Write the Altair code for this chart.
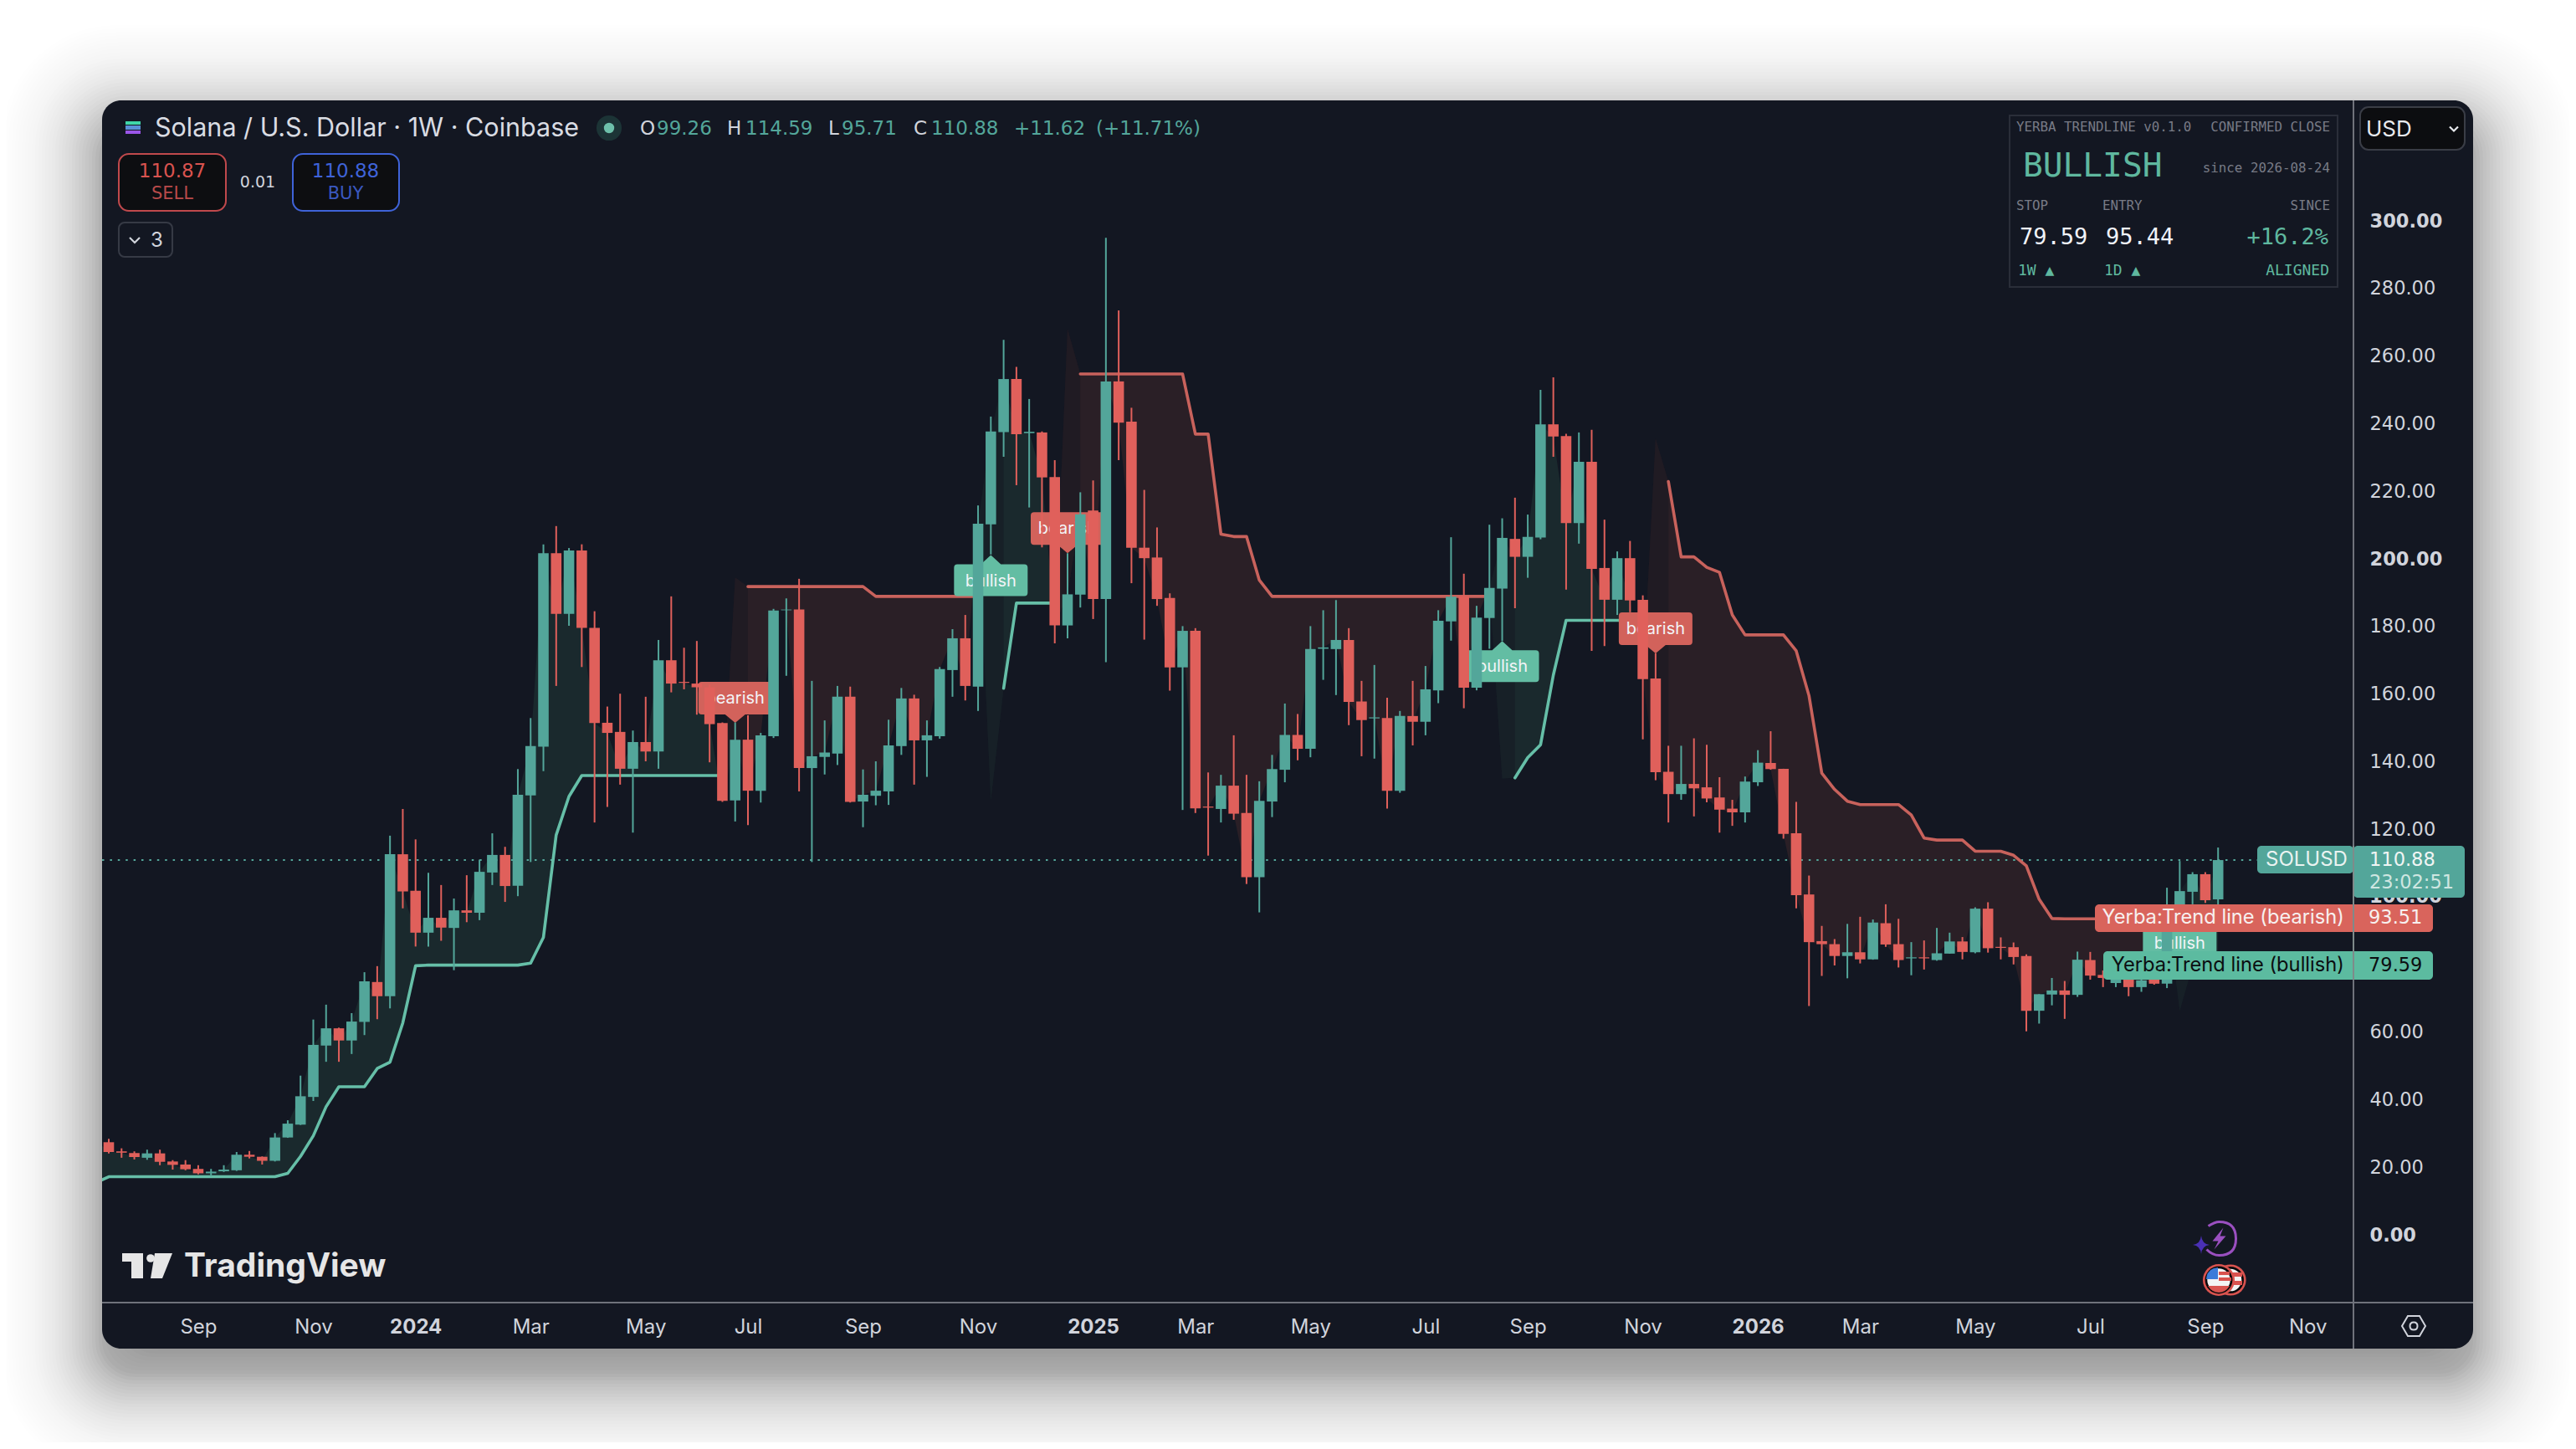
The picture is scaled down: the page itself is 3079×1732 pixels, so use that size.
import math
import altair as alt
import pandas as pd

# ---------- values ----------
opens = [27.4,24.7,24.2,22.8,24.1,21.7,20.8,19.5,18.2,18.8,
 19.1,23.7,23.1,21.9,28.8,32.6,40.8,56,61.1,57.5,
 63,74.8,70.6,112.6,101.8,89.4,93.8,90.8,96,95.3,
 107.2,112.4,103.3,130,144.4,201.7,183.7,202.5,179.6,151.5,
 148.8,137.9,145.8,143,170,163.6,163.1,162,151.4,128.5,
 146.5,131.4,147.5,184.8,185,138.1,141.4,142.4,159.2,128.2,
 129.9,131.2,144.6,158.7,146.3,147.5,167.1,176.5,162.2,210.2,
 237.5,253.2,237.2,237.4,224.2,180.3,189.4,214.3,188.1,252.5,
 240.6,203.3,200.4,188.4,167.9,178.7,126.7,126,132.9,124.8,
 105.8,128.2,137.6,147.9,143.8,173.4,173.3,176,157.8,152.8,
 152.9,131.4,153.5,151.8,161.1,181.5,189,161.9,182.5,191.2,
 205.9,200.6,206.3,239.8,236.3,210.6,228.7,197.3,187.9,200.2,
 187.9,164.6,137,130.4,133.4,132.4,129.4,126.1,125,133.9,
 139.6,137.9,118.8,100.7,86.9,86,82.5,83.6,81.5,92.2,
 86,81.8,82.1,81.3,83.2,86.8,83.6,96.5,85.2,85.1,
 82.5,66.3,71.1,72.3,71,81.3,76.9,74.5,76,73.3,
 75.6,74.3,96,101.5,106.7,99.26]
highs = [28.4,25.6,24.7,25.2,25.2,22.1,22.1,20.6,19.5,20.6,
 24.5,24.8,23.2,30.1,33.9,47.1,63.7,68.1,61.3,65.6,
 77.7,79.5,118.1,126,117,107.1,103.5,99.5,106.4,111,
 118.8,114.8,137.8,152.9,204.3,209.7,203.2,204.3,184.5,156.3,
 160.1,149.2,159.2,176,188.9,173.7,175.7,162.8,151.6,151.6,
 153.7,148.5,185.2,188.3,194.1,163.9,152.2,162.4,162.2,137.7,
 140.1,152.4,161.8,159.8,152.2,168,179.2,183.4,215.8,242.1,
 264.8,256.8,247.3,237.7,229.2,201.7,219.7,223.2,295,273.5,
 244.7,220.4,209.3,189.8,180.1,179.5,136.8,136.1,147.8,136.1,
 134.2,142,157.2,154.1,180.1,184.8,187.8,179.5,163.9,168.6,
 158.9,155,163.9,168.3,184.8,206.4,195.6,186.1,210.1,212,
 218.1,213.1,250,253.7,237,237.4,238.2,211.6,202.2,205.3,
 189.2,172.1,144.7,144.7,146.9,145,135.4,128.7,135.6,143.4,
 149,137.9,128.1,106.3,91.4,87.5,92,94.1,93.3,97.8,
 93.5,86.6,87.1,90.8,89.4,88.1,96.9,98.4,88,86.5,
 83,71.2,76,75.1,83.8,83.7,78.2,82,80,80,
 79,102.7,110.6,107.3,107.3,114.59]
lows = [24.1,22.8,22.3,22.2,20.6,19.3,19.1,17.9,17.4,18.6,
 18.9,22.6,20.8,21.7,28.7,32.5,39.6,51.2,51.2,53.5,
 59.1,63.8,67,96.6,85.3,85.3,87,78.3,92.5,93.1,
 103.5,98.5,100.2,110.3,137.2,162.4,180.2,168,122,126.6,
 133.2,119,140.1,137.9,160.5,161.4,153.9,139.8,128.1,122.3,
 121.2,127.9,147,165.4,131.2,110.3,136.2,139,127.9,120.6,
 127.1,127.2,142,133.2,135.5,146.8,159.2,158.1,155,201.3,
 230.2,221.8,215.2,203.4,175,176.5,185.6,182.2,169.4,229.2,
 192.8,176.1,186.1,161,125.7,124.8,112.2,122,122.8,103.8,
 95.4,123.6,133.9,140.4,141.3,164.2,159.7,150.8,141.6,140.9,
 126.1,130.8,144.8,147.8,157.3,175.8,155.8,161.1,173.4,175.7,
 185.4,194.4,205.8,230.2,190.9,204.5,172.8,174.2,183.4,184.2,
 146.6,134.5,122,128.7,123.8,128,119,121,122,132.8,
 137.6,117.2,96.6,67.7,76.6,79.7,75.9,80.3,81.4,85.2,
 79.1,76.8,78.5,81.1,83.2,81.5,83.3,83.5,81.5,80,
 60.2,62.5,67.9,63.9,70.4,75.5,73.3,73.3,70.6,71.9,
 74,73,93.8,97.8,98.2,95.71]
closes = [24.5,24.3,23.0,24.1,21.6,20.7,19.4,18.2,18.7,19.3,
 23.7,23.1,21.9,28.8,32.9,41,56.2,61.1,57.5,63.1,
 75,70.6,112.6,101.6,89.4,93.8,90.9,96,95.3,107.4,
 112.4,103.2,130.2,144.6,201.7,183.7,202.5,179.6,151.4,148.5,
 137.9,145.8,143,170,163.1,163.3,162,151.1,128.4,146.5,
 131.4,147.8,184.7,185,138.1,141.6,142.7,159.2,128.1,130.2,
 131.4,144.8,158.7,146.3,147.8,167.4,176.5,162.4,210.4,237.7,
 253.2,236.9,237.6,224.1,180.3,189.5,213.2,188.1,252.5,240.3,
 203.3,200.2,188.1,167.9,178.7,126.2,126.4,132.9,124.6,105.8,
 128.4,137.8,147.9,143.8,173.3,173.8,176,157.7,152.3,153.1,
 131.4,153.5,151.8,161.4,181.7,188.8,161.9,182.6,191.4,206.2,
 200.6,206.5,239.8,236.2,210.6,228.7,197,187.9,200.2,187.7,
 164.4,136.9,130.4,133.4,132.1,129.1,125.8,125,134.1,139.7,
 137.8,118.6,100.5,86.6,86,82.5,83.6,81.5,92.4,85.9,
 81.3,82.1,81.8,83.3,86.8,83.7,96.5,84.8,84.9,82.2,
 66.3,71.2,72.3,71,81.4,76.7,76,77.5,73.3,75.3,
 74.3,96,101.7,106.7,99,110.88]

bull_a_stop = [15.4] + [17.2]*14 + [18.2,23.2,29.3,37.9,43.8,43.8,43.8,49.2,51.1,62.7,79.6] + [79.8]*8 + [80.4,88.0,118.3,129.7] + [135.9]*12
bear_a_stop = [191.8]*10 + [188.9]*9
bull_b_stop = [161.7,186.9,186.9,186.9,186.9]
bear_b_stop = [254.7]*9 + [236.9,236.9,207.3,206.6,206.6,193.7] + [188.9]*18
bull_c_stop = [135.2,141.2,145.0,165.6] + [181.8]*7
bear_c_stop = [222.9,200.6,200.6,197.5,196.0,183.4,177.5,177.5,177.5,177.5,172.8,159.5,136.6,131.8,128.3,127.3,127.3,127.3,127.3,124.2,117.4,116.8,116.8,116.8,113.5,113.5,113.5,112.3,109.2,99.3,93.6] + [93.51]*9
bull_d_stop = [79.59]*3

# flip bar, side, far edge of the fill at the flip, tag tip price
flips = [(49,'bear',194.5,151.5),(69,'bull',128.5,201.1),(75,'bear',268.0,201.7),
         (109,'bull',135.0,175.7),(121,'bear',235.6,172.0),(162,'bull',66.3,93.8)]
stops = {49:bear_a_stop,69:bull_b_stop,75:bear_b_stop,109:bull_c_stop,121:bear_c_stop,162:bull_d_stop}

price_ticks = list(range(0,301,20))
covered_ticks = [80,100]        # sit beneath the price flags
time_ticks = ['2023-09-04','2023-11-06','2024-01-01','2024-03-04','2024-05-06','2024-07-01','2024-09-02','2024-11-04',
 '2025-01-06','2025-03-03','2025-05-05','2025-07-07','2025-09-01','2025-11-03','2026-01-05','2026-03-02',
 '2026-05-04','2026-07-06','2026-09-07','2026-11-02']
last_price, bear_level, bull_level = 110.88, 93.51, 79.59

# ---------- layout ----------
PL, PT, PR, PB = 122, 120, 2812, 1557      # price pane in page pixels
CR, CB = 2956, 1612                        # card right / bottom
BAR0, STEP = 130.0, 15.28                  # page x of first candle, px per week
BG='#131722'; UP='#53a69a'; DN='#e0605b'; BULL='#66bfa8'; BEAR='#c8625c'
FILL_BULL='#1a292d'; FILL_BEAR='#2a1f26'; TEXT='#d1d4dc'; GRID='#6f727b'
SANS='Inter'; NUM='DejaVu Sans'; MONO='DejaVu Sans Mono'

WEEK = 7*86400000
T0 = int(pd.Timestamp('2023-07-17').value//10**6)
def t(i): return int(T0 + i*WEEK)
px2i = lambda X:(X-BAR0)/STEP

one = pd.DataFrame({'a':[0]})
xs = alt.Scale(type='utc', domain=[t(px2i(PL)), t(px2i(PR))], padding=0)
ys = alt.Scale(domain=[(1476-PB)/4.04,(1476-PT)/4.04], zero=False, nice=False)
tick_ms = [int(pd.Timestamp(d).value//10**6) for d in time_ticks]
x_axis = alt.Axis(values=tick_ms, title=None, grid=False, domain=False, ticks=False, labelFont=SANS, labelFontSize=24,
    labelColor=TEXT, labelPadding=17, labelOverlap=False, labelBound=False, labelFlush=False, zindex=1,
    labelExpr="utcmonth(datum.value)==0 ? utcFormat(datum.value,'%Y') : utcFormat(datum.value,'%b')",
    labelFontWeight={"condition":{"test":"utcmonth(datum.value)==0","value":700},"value":400})
y_axis = alt.Axis(orient='right', values=[p for p in price_ticks if p not in covered_ticks], format='.2f', title=None, grid=False, domain=False, ticks=False, labelFont=NUM,
    labelFontSize=22.5, labelColor=TEXT, labelPadding=20, labelOverlap=False, labelBound=False, labelFlush=False, zindex=1,
    labelFontWeight={"condition":{"test":"datum.value%100===0","value":700},"value":400})
X = lambda f='t': alt.X(f+':T', scale=xs, axis=x_axis)
Y = lambda f: alt.Y(f+':Q', scale=ys, axis=y_axis)

def box(x0,y0,x1,y1,fill,stroke=None,sw=0,r=0,op=1):
    kw = dict(fill=fill, cornerRadius=r, opacity=op)
    if stroke: kw.update(stroke=stroke, strokeWidth=sw)
    return alt.Chart(one).mark_rect(**kw).encode(x=alt.value(x0-PL),x2=alt.value(x1-PL),y=alt.value(y0-PT),y2=alt.value(y1-PT))
def txt(s,x,y,size,color,align='left',weight=400,font=SANS,op=1):
    return alt.Chart(one).mark_text(text=s,align=align,baseline='middle',fontSize=size,fontWeight=weight,font=font,color=color,opacity=op).encode(x=alt.value(x-PL),y=alt.value(y-PT))
def glyph(path,x,y,fill=None,stroke=None,sw=2):
    # path in page pixels about (x,y); vega scales custom paths by sqrt(size)/2
    kw = dict(shape=path, size=10000, opacity=1)
    if fill: kw.update(filled=True, fill=fill, strokeWidth=0)
    else: kw.update(filled=False, stroke=stroke, strokeWidth=sw, fill='transparent')
    return alt.Chart(one).mark_point(**kw).encode(x=alt.value(x-PL),y=alt.value(y-PT))
def P(*parts):
    out=[]
    for p in parts:
        out.append(p if isinstance(p,str) else f"{p/50:.4f}")
    return ' '.join(out)
def rule_px(x0,y0,x1,y1,color=GRID,sw=2):
    return alt.Chart(one).mark_rule(color=color,strokeWidth=sw).encode(x=alt.value(x0-PL),x2=alt.value(x1-PL),y=alt.value(y0-PT),y2=alt.value(y1-PT))
def dot(x,y,r,fill):
    return alt.Chart(one).mark_point(shape='circle',filled=True,fill=fill,size=math.pi*r*r,opacity=1,strokeWidth=0).encode(x=alt.value(x-PL),y=alt.value(y-PT))

layers=[]
# soft shadow: alpha by distance from the shadow edge
shadow_profile=[(-40,.37),(-30,.36),(0,.29),(18,.20),(42,.12),(58,.08),(82,.03),(100,.012),(124,0.0)]
def A(d):
    for (d0,a0),(d1,a1) in zip(shadow_profile,shadow_profile[1:]):
        if d0<=d<=d1:
            return a0+(a1-a0)*(d-d0)/(d1-d0)
    return 0.0
prev=0.0
for d in range(120,-40,-4):
    target=A(d)
    a=1-(1-target)/(1-prev)
    prev=target
    layers.append(box(PL-d,PT-d+30,CR+d,CB+d+30,'#000000',r=40+max(d,0)*0.8,op=max(a,0.0005)))
# card
layers.append(box(PL,PT,CR,CB,BG,r=23))

# ---------- data tables ----------
n=len(closes)
candles=pd.DataFrame({'t':[t(i) for i in range(n)],'open':opens,'high':highs,'low':lows,'close':closes})
candles['dir']=['up' if c>=o else 'down' for o,c in zip(opens,closes)]

area_rows=[];line_rows=[];wedge_rows=[]
def add_seg(seg,side,first,vals):
    for k,v in enumerate(vals):
        i=first+k
        c=closes[i] if i>=0 else 28.0
        area_rows.append(dict(seg=seg,side=side,t=t(i),stop=v,close=c))
        line_rows.append(dict(seg=seg,side=side,t=t(i),stop=v))
add_seg(0,'bull',-1,bull_a_stop)
for s,(fi,side,edge,tip) in enumerate(flips,1):
    area_rows.append(dict(seg=s,side=side,t=t(fi-1),stop=closes[fi-1],close=closes[fi-1]))
    area_rows.append(dict(seg=s,side=side,t=t(fi),stop=edge,close=closes[fi]))
    add_seg(s,side,fi+1,stops[fi])
    wedge_rows+= [dict(seg=s,t=t(fi-1),a=closes[fi-1],b=closes[fi-1]),
                  dict(seg=s,t=t(fi),a=edge,b=closes[fi]),
                  dict(seg=s,t=t(fi+1),a=stops[fi][0],b=closes[fi+1])]
area=pd.DataFrame(area_rows);lines=pd.DataFrame(line_rows);wedge=pd.DataFrame(wedge_rows)
tags=pd.DataFrame([dict(t=t(fi),tip=tip,side=side,label='bullish' if side=='bull' else 'bearish') for fi,side,edge,tip in flips])

# ---------- chart marks ----------
for side,col in (('bull',FILL_BULL),('bear',FILL_BEAR)):
    layers.append(alt.Chart(area[area.side==side]).mark_area(color=col,opacity=1,clip=True,interpolate='linear').encode(
        x=X(), y=Y('stop'), y2='close:Q', detail='seg:N'))
layers.append(alt.Chart(wedge).mark_area(color=BG,opacity=0.45,clip=True).encode(x=X(),y=Y('a'),y2='b:Q',detail='seg:N'))
price_line=pd.DataFrame({'p':[last_price]})
layers.append(alt.Chart(price_line).mark_rule(color=UP,strokeWidth=2,strokeDash=[2.5,6.9]).encode(y=Y('p'),x=alt.value(0),x2=alt.value(2698-PL)))
for side,col in (('bull',BULL),('bear',BEAR)):
    layers.append(alt.Chart(lines[lines.side==side]).mark_line(color=col,strokeWidth=3.6,clip=True,strokeJoin='round',strokeCap='round').encode(x=X(),y=Y('stop'),detail='seg:N'))
# signal tags
bear_path=P('M',0,0,'L',-12,-10,'L',-40,-10,'Q',-44,-10,-44,-14,'L',-44,-45,'Q',-44,-49,-40,-49,'L',40,-49,'Q',44,-49,44,-45,'L',44,-14,'Q',44,-10,40,-10,'L',12,-10,'Z')
bull_path=P('M',0,0,'L',12,11,'L',40,11,'Q',44,11,44,15,'L',44,45,'Q',44,49,40,49,'L',-40,49,'Q',-44,49,-44,45,'L',-44,15,'Q',-44,11,-40,11,'L',-12,11,'Z')
for side,path,col,dy in (('bear',bear_path,'#d2625b',-29),('bull',bull_path,'#63bda3',31)):
    d=tags[tags.side==side]
    layers.append(alt.Chart(d).mark_point(shape=path,size=10000,filled=True,fill=col,opacity=1,strokeWidth=0).encode(x=X(),y=Y('tip')))
    layers.append(alt.Chart(d).mark_text(color='#f2f4f7',fontSize=20,font=SANS,dy=dy,align='center',baseline='middle').encode(x=X(),y=Y('tip'),text='label:N'))
# candles on top
dir_color=alt.Color('dir:N',scale=alt.Scale(domain=['up','down'],range=[UP,DN]),legend=None)
layers.append(alt.Chart(candles).mark_rule(strokeWidth=2).encode(x=X(),y=Y('low'),y2='high:Q',color=dir_color))
layers.append(alt.Chart(candles).mark_bar(size=12.6,opacity=1).encode(x=X(),y=Y('open'),y2='close:Q',color=dir_color))

# pane separators
layers.append(rule_px(PL,PB,CR,PB))
layers.append(rule_px(PR+1,PT,PR+1,CB))

# the round price levels that the price flags cover
for p in covered_ticks:
    layers.append(alt.Chart(pd.DataFrame({'p':[float(p)],'s':[f'{p:.2f}']})).mark_text(align='left',baseline='middle',font=NUM,fontSize=22.5,fontWeight=700 if p%100==0 else 400,color=TEXT).encode(x=alt.value(2832-PL),y=Y('p'),text='s:N'))

# price labels
layers += [
 box(2698,1011,2813,1044,UP,r=5),
 box(2813,1011,2946,1073,UP,r=5),
 txt('SOLUSD',2708,1028,24,'#eaf3f1'),
 txt(f'{last_price:.2f}',2832,1028,22.5,'#f0f5f4',font=NUM),
 txt('23:02:51',2832,1055,22.5,'#cfe6e1',font=NUM),
 box(2504,1081,2908,1114,'#d9645c',r=5),
 txt('Yerba:Trend line (bearish)',2802,1097,23.7,'#f7f0ef',align='right'),
 txt(f'{bear_level:.2f}',2831,1097,22.5,'#f7f0ef',font=NUM),
 box(2514,1137,2908,1171,'#5cbba0',r=5),
 txt('Yerba:Trend line (bullish)',2802,1154,23.7,'#0b0e11',align='right'),
 txt(f'{bull_level:.2f}',2831,1154,22.5,'#0b0e11',font=NUM),
 rule_px(PR+1,1011,PR+1,1171,color='#7f8a8a'),
]

# header
layers += [
 box(150,145,168,149,'#3fd6a8'),box(150,150,168,155,'#5a8fd6'),box(150,156,168,160,'#9a55e8'),
 txt('Solana / U.S. Dollar · 1W · Coinbase',185,154,30.5,'#d9dce3'),
 dot(728,153,17,'#1c3436'),dot(728,153,7,'#6dc0aa'),
]
ohlc=[('O',765,TEXT),('99.26',785,UP),('H',869,TEXT),('114.59',891,UP),('L',990,TEXT),('95.71',1006,UP),
      ('C',1092,TEXT),('110.88',1113,UP),('+11.62',1212,UP),('(+11.71%)',1310,UP)]
layers += [txt(s,x,154,23,c,font=NUM) for s,x,c in ohlc]
layers += [
 box(142,184,270,252,'#0d0e11','#c0494c',2,12),
 txt('110.87',206,205,23,'#d9534f','center',font=NUM),
 txt('SELL',206,232,21,'#b84a4a','center',font=NUM),
 txt('0.01',308,218,19,TEXT,'center',font=NUM),
 box(350,184,477,252,'#0d0e11','#3f63d8',2,12),
 txt('110.88',413,205,23,'#3f63d8','center',font=NUM),
 txt('BUY',413,232,21,'#3a58c0','center',font=NUM),
 box(142,266,206,307,BG,'#363a45',2,7),
 glyph(P('M',-6,-3,'L',0,3,'L',6,-3),161,287,stroke=TEXT,sw=2.2),
 txt('3',180,288,24,TEXT),
]
# status panel
layers += [
 box(2402,138,2794,343,BG,'#2a2e39',2,0),
 txt('YERBA TRENDLINE v0.1.0',2410,152,15.8,'#787b86',font=MONO),
 txt('CONFIRMED CLOSE',2785,152,15.8,'#787b86','right',font=MONO),
 txt('BULLISH',2418,199,39.5,'#5fb89f',font=MONO),
 txt('since 2026-08-24',2785,201,15.8,'#787b86','right',font=MONO),
 txt('STOP',2410,246,15.8,'#787b86',font=MONO),
 txt('ENTRY',2513,246,15.8,'#787b86',font=MONO),
 txt('SINCE',2785,246,15.8,'#787b86','right',font=MONO),
 txt('79.59',2414,284,27,'#f0f3fa',font=MONO),
 txt('95.44',2517,284,27,'#f0f3fa',font=MONO),
 txt('+16.2%',2783,284,27,'#5fb89f','right',font=MONO),
 txt('1W ▲',2412,324,18,'#5fb89f',font=MONO),
 txt('1D ▲',2515,324,18,'#5fb89f',font=MONO),
 txt('ALIGNED',2784,324,18,'#5fb89f','right',font=MONO),
]
# currency selector
layers += [
 box(2821,128,2946,179,'#0c0d10','#3a3d46',2,10),
 txt('USD',2828,155,26,'#e8eaee'),
 glyph(P('M',-5,-2.5,'L',0,2.5,'L',5,-2.5),2933,154,stroke='#e8eaee',sw=2.2),
]
# watermark
layers += [
 glyph(P('M',-30,-15,'L',-5,-15,'L',-5,15,'L',-19,15,'L',-19,-5,'L',-30,-5,'Z'),176,1513,fill='#e6e6e6'),
 dot(180,1504,5.5,'#e6e6e6'),
 glyph(P('M',9,-15,'L',30,-15,'L',18,15,'L',4,15,'Z'),176,1513,fill='#e6e6e6'),
 txt('TradingView',220,1514,39,'#e6e6e6',weight=700),
]
# corner icons
ring=P('M',-13,-15,'Q',-5,-20,0,-20,'Q',20,-20,20,0,'Q',20,20,0,20,'Q',-8,20,-15,13)
layers += [
 glyph(ring,2652.5,1480.5,stroke='#9a4fc0',sw=3),
 glyph(P('M',5,-13,'L',-8,3,'L',-1,3,'L',-6,13,'L',8,-3,'L',1,-3,'Z'),2652.5,1480.5,fill='#9a4fc0'),
 glyph(P('M',0,-11,'Q',1,-1,10,0,'Q',1,1,0,11,'Q',-1,1,-10,0,'Q',-1,-1,0,-11,'Z'),2631,1488,fill='#4a30b5'),
 dot(2666,1530,21,'#d9534f'),dot(2666,1530,18,'#08090b'),dot(2666,1530,15,'#f3f3f3'),
 box(2668,1521,2680,1526,'#d9534f'),box(2668,1531,2680,1536,'#d9534f'),
 dot(2652,1530,21.5,'#d9534f'),dot(2652,1530,18.5,'#08090b'),dot(2652,1530,15.5,'#f3f3f3'),
 glyph(P('M',-15,-1,'Q',-14,-14,-1,-15,'L',-1,-1,'Z'),2652,1530,fill='#3b7bd9'),
 box(2652,1520,2665,1524,'#d9534f'),box(2652,1527,2667,1531,'#d9534f'),
 glyph(P('M',-13,7,'L',13,7,'Q',8,15,0,15,'Q',-8,15,-13,7,'Z'),2652,1530,fill='#d9534f'),
]
# settings
hexa=P('M',-14,0,'L',-7,-12,'L',7,-12,'L',14,0,'L',7,12,'L',-7,12,'Z')
circ=P('M',-4.5,0,'Q',-4.5,-4.5,0,-4.5,'Q',4.5,-4.5,4.5,0,'Q',4.5,4.5,0,4.5,'Q',-4.5,4.5,-4.5,0,'Z')
layers += [glyph(hexa,2885,1585,stroke=TEXT,sw=2),glyph(circ,2885,1585,stroke=TEXT,sw=2)]

chart=alt.layer(*layers).properties(
    width=PR-PL, height=PB-PT, background='#ffffff',
    padding={'left':PL-8,'top':PT-8,'right':3063-(PR-8),'bottom':1716-(PB-8)},
    autosize=alt.AutoSizeParams(type='none',contains='content'),
).configure_view(strokeWidth=0)
chart.save("out.html", embed_options={"renderer": "svg", "actions": False})
